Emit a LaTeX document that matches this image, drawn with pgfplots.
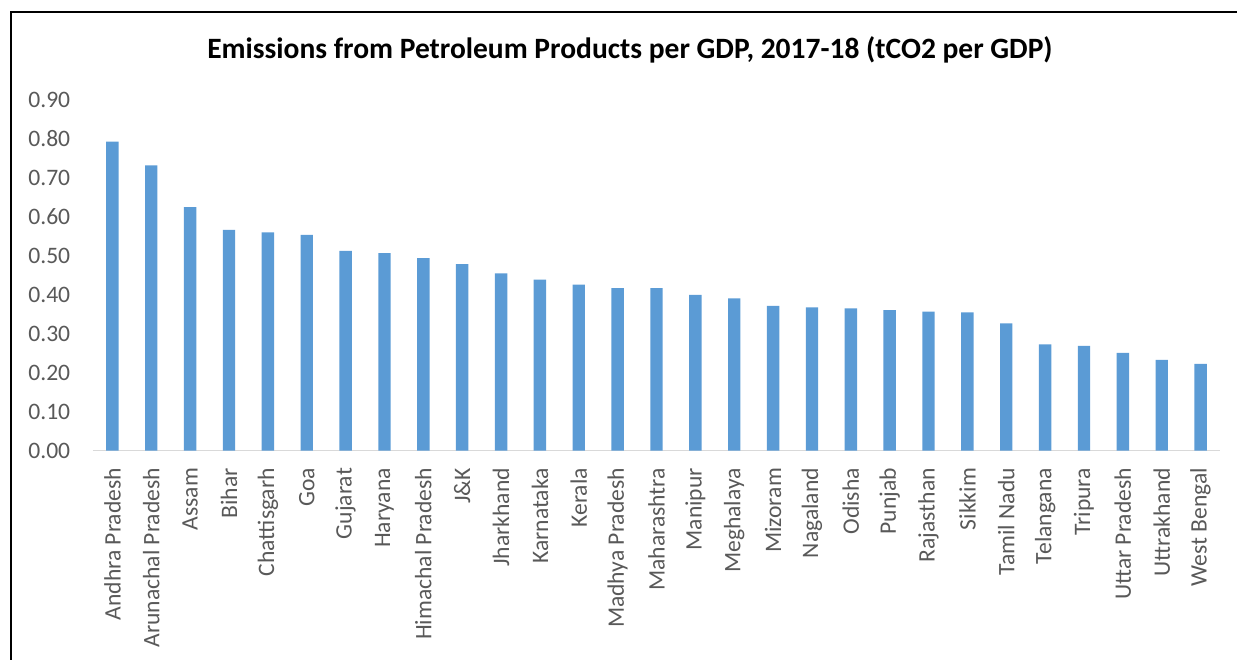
\documentclass[border=0pt]{standalone}
\usepackage{pgfplots}
\pgfplotsset{compat=1.18}
\usepackage{fontspec}
\setmainfont{Carlito}
\definecolor{barblue}{HTML}{5B9BD5}
\definecolor{ticktext}{HTML}{595959}
\definecolor{axisgray}{HTML}{D9D9D9}
\begin{document}
\begin{tikzpicture}
\useasboundingbox (-46.5pt,-104.15pt) rectangle (572pt,225.35pt);
\draw[line width=0.85pt] (-41pt,-110pt) -- (-41pt,219.5pt) -- (580pt,219.5pt);
\node[font=\fontsize{14.75}{16}\selectfont\bfseries] at (268.5pt,200.35pt) {Emissions from Petroleum Products per GDP, 2017-18 (tCO2 per GDP)};
\begin{axis}[
  at={(0pt,0pt)}, anchor=south west,
  scale only axis,
  width=563.5pt, height=175.35pt,
  xmin=-0.5, xmax=28.5, ymin=0, ymax=0.9,
  axis lines*=left,
  y axis line style={draw=none},
  x axis line style={draw=axisgray, line width=0.75pt},
  major tick length=0pt,
  ytick={0,0.1,...,0.9},
  yticklabel style={/pgf/number format/fixed, /pgf/number format/fixed zerofill, /pgf/number format/precision=2, /pgf/number format/assume math mode=true, font=\fontsize{11.8}{13}\selectfont, text=ticktext, inner sep=0pt, xshift=-11.2pt},
  xtick=data,
  xticklabels={Andhra Pradesh, Arunachal Pradesh, Assam, Bihar, Chattisgarh, Goa, Gujarat, Haryana, Himachal Pradesh, J\&K, Jharkhand, Karnataka, Kerala, Madhya Pradesh, Maharashtra, Manipur, Meghalaya, Mizoram, Nagaland, Odisha, Punjab, Rajasthan, Sikkim, Tamil Nadu, Telangana, Tripura, Uttar Pradesh, Uttrakhand, West Bengal},
  xticklabel style={rotate=90, anchor=east, font=\fontsize{11.8}{13}\selectfont, text=ticktext, inner sep=0pt, xshift=-8.5pt},
  ybar, bar width=6.2pt,
  clip=false,
]
\addplot[fill=barblue, draw=none] coordinates {
(0,0.793) (1,0.732) (2,0.625) (3,0.567) (4,0.560) (5,0.554) (6,0.513) (7,0.507) (8,0.494) (9,0.479)
(10,0.455) (11,0.439) (12,0.426) (13,0.417) (14,0.417) (15,0.400) (16,0.391) (17,0.372) (18,0.368) (19,0.365)
(20,0.361) (21,0.357) (22,0.355) (23,0.327) (24,0.273) (25,0.269) (26,0.251) (27,0.233) (28,0.223)
};
\end{axis}
\end{tikzpicture}
\end{document}
